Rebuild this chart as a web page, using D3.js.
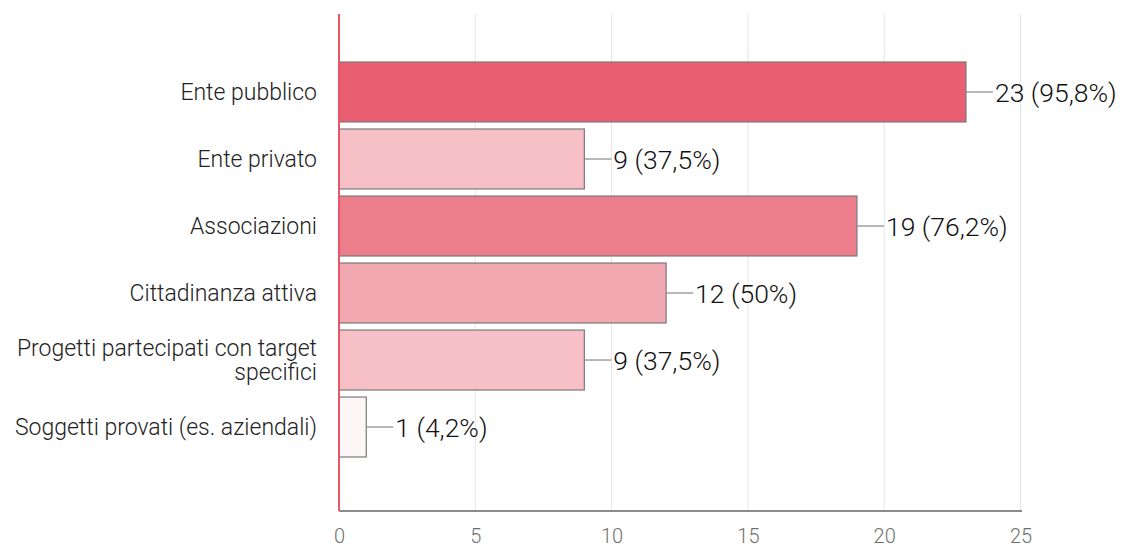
<!DOCTYPE html>
<html>
<head>
<meta charset="utf-8">
<script src="https://cdn.jsdelivr.net/npm/d3@7"></script>
<style>
	body { margin: 0; background: #fff; }
	svg text { font-family: Roboto, "Liberation Sans", Arial, sans-serif; font-weight: 300; }
</style>
</head>
<body>
<div id="chart"></div>
<script>
// answers to the question
var categories = [
	"Ente pubblico",
	"Ente privato",
	"Associazioni",
	"Cittadinanza attiva",
	"Progetti partecipati con target specifici",
	"Soggetti provati (es. aziendali)"
];
var counts   = [23, 9, 19, 12, 9, 1];
var percents = ["95,8%", "37,5%", "76,2%", "50%", "37,5%", "4,2%"];
var xTicks   = [0, 5, 10, 15, 20, 25];

var width  = 1126;
var height = 547;

var svg = d3.select("#chart").append("svg")
	.attr("width", width)
	.attr("height", height);

var x = d3.scaleLinear()
	.domain([0, 25])
	.range([339, 1020.5]);

var y = d3.scaleBand()
	.domain(categories)
	.range([62, 457])
	.paddingInner(0.105)
	.paddingOuter(0);

// lighter pink for fewer answers, deep red for the most
var color = d3.scaleLinear()
	.domain([1, 9, 12, 19, 23])
	.range(["#fdf6f6", "#f6c0c6", "#f2a8b1", "#ec7d8a", "#e95e70"]);

// vertical grid
svg.append("g")
	.selectAll("line")
	.data(xTicks.slice(1))
	.join("line")
	.attr("x1", function(d) { return x(d); })
	.attr("x2", function(d) { return x(d); })
	.attr("y1", 14)
	.attr("y2", 511)
	.attr("stroke", "#e6e6e6")
	.attr("stroke-width", 1);

// bottom axis
var xAxis = d3.axisBottom(x)
	.tickValues(xTicks)
	.tickSize(0)
	.tickPadding(18);

var gx = svg.append("g")
	.attr("transform", "translate(0,511)")
	.call(xAxis);
gx.select(".domain")
	.attr("stroke", "#666")
	.attr("stroke-width", 1.5)
	.attr("d", "M339,0H1022");
gx.selectAll("text")
	.attr("fill", "#707070")
	.attr("font-size", "20px")
	.attr("y", 32)
	.attr("dy", null)
	.style("font-family", "Roboto, 'Liberation Sans', Arial, sans-serif")
	.style("font-weight", 300);

// bars
svg.append("g")
	.selectAll("rect")
	.data(categories)
	.join("rect")
	.attr("x", x(0))
	.attr("y", function(d) { return y(d); })
	.attr("width", function(d, i) { return x(counts[i]) - x(0); })
	.attr("height", y.bandwidth())
	.attr("fill", function(d, i) { return color(counts[i]); })
	.attr("stroke", "#7a7a7a")
	.attr("stroke-width", 1.2);

// leader lines + value labels
var lab = svg.append("g")
	.selectAll("g")
	.data(categories)
	.join("g")
	.attr("transform", function(d, i) {
		return "translate(" + x(counts[i]) + "," + (y(d) + y.bandwidth() / 2) + ")";
	});
lab.append("line")
	.attr("x1", 0)
	.attr("x2", 27)
	.attr("y1", 0)
	.attr("y2", 0)
	.attr("stroke", "#888")
	.attr("stroke-width", 1.2);
lab.append("text")
	.attr("x", 29)
	.attr("dy", "0.36em")
	.attr("font-size", "26.5px")
	.attr("fill", "#111")
	.text(function(d, i) { return counts[i] + " (" + percents[i] + ")"; });

// category labels, wrapped at ~300px
var catG = svg.append("g")
	.selectAll("text")
	.data(categories)
	.join("text")
	.attr("x", 317)
	.attr("y", function(d) { return y(d) + y.bandwidth() / 2; })
	.attr("text-anchor", "end")
	.attr("font-size", "23px")
	.attr("fill", "#222");

catG.each(function(d) {
	var t = d3.select(this);
	var lines = [d];
	if (d.length > 34) {
		var cut = d.lastIndexOf(" ");
		lines = [d.slice(0, cut), d.slice(cut + 1)];
	}
	var off = -(lines.length - 1) / 2 * 1.08;
	lines.forEach(function(l, k) {
		t.append("tspan")
			.attr("x", 317)
			.attr("dy", (k === 0 ? off + 0.35 : 1.08) + "em")
			.text(l);
	});
});

// left axis in red
svg.append("line")
	.attr("x1", x(0))
	.attr("x2", x(0))
	.attr("y1", 14)
	.attr("y2", 511)
	.attr("stroke", "#e8566a")
	.attr("stroke-width", 2);
</script>
</body>
</html>
